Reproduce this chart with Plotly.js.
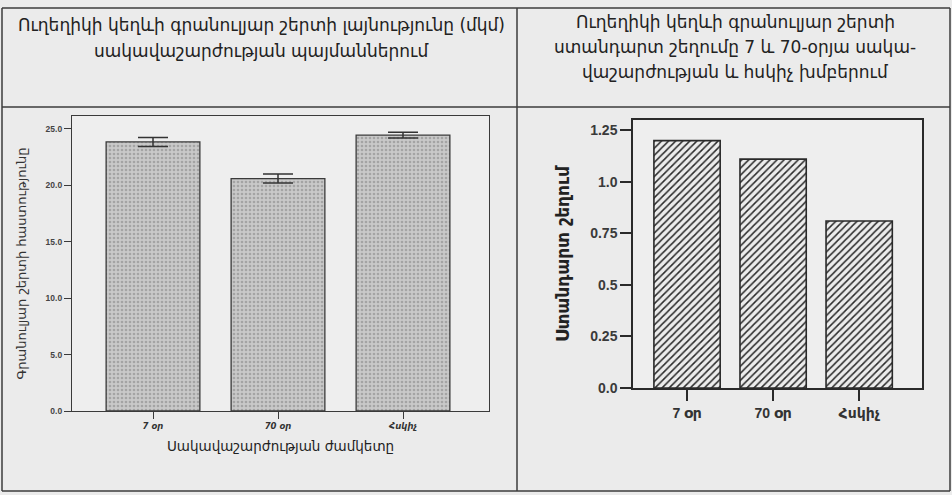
<!DOCTYPE html>
<html>
<head>
<meta charset="utf-8">
<script src="https://cdn.plot.ly/plotly-3.0.1.min.js"></script>
<style>
html,body{margin:0;padding:0;background:#ebebeb;}
#chart{width:952px;height:495px;}
</style>
</head>
<body>
<div id="chart"></div>
<script>
// ---- data ----
const categories = ['7 օր', '70 օր', 'Հսկիչ'];
const layerThickness = [23.85, 20.6, 24.45];
const layerThicknessErr = [0.4, 0.4, 0.25];
const stdDeviation = [1.20, 1.11, 0.81];
const leftTickVals = [0, 5, 10, 15, 20, 25];
const leftTickText = ['0.0', '5.0', '10.0', '15.0', '20.0', '25.0'];
const rightTickVals = [0, 0.25, 0.5, 0.75, 1.0, 1.25];
const rightTickText = ['0.0', '0.25', '0.5', '0.75', '1.0', '1.25'];
const leftHeader = ['Ուղեղիկի կեղևի գրանուլյար շերտի լայնությունը (մկմ)', 'սակավաշարժության պայմաններում'];
const rightHeader = ['Ուղեղիկի կեղևի գրանուլյար շերտի', 'ստանդարտ շեղումը 7 և 70-օրյա սակա-', 'վաշարժության և հսկիչ խմբերում'];
const leftYTitle = 'Գրանուլյար շերտի հաստությունը';
const leftXTitle = 'Սակավաշարժության ժամկետը';
const rightYTitle = 'Ստանդարտ շեղում';

const W = 952, H = 495;
const px = x => x / W;
const py = y => 1 - y / H;
const ARM = 'DejaVu Sans, Noto Sans, sans-serif';
const INK = '#222222';

const traces = [
  {
    type: 'bar', x: categories, y: layerThickness, xaxis: 'x', yaxis: 'y',
    width: 0.75,
    marker: {
      color: '#c4c4c4',
      line: {color: '#3a3a3a', width: 1.3},
      pattern: {shape: '.', bgcolor: '#c9c9c9', fgcolor: '#a4a4a4', size: 4, solidity: 0.35}
    },
    error_y: {type: 'data', array: layerThicknessErr, visible: true, color: '#333', thickness: 1.5, width: 15},
    hoverinfo: 'x+y', showlegend: false
  },
  {
    type: 'bar', x: categories, y: stdDeviation, xaxis: 'x2', yaxis: 'y2',
    width: 0.77,
    marker: {
      color: '#eeeeee',
      line: {color: '#2a2a2a', width: 1.6},
      pattern: {shape: '/', bgcolor: '#ececec', fgcolor: '#2a2a2a', size: 5, solidity: 0.3}
    },
    hoverinfo: 'x+y', showlegend: false
  }
];

const lineShape = (x0, y0, x1, y1) => ({
  type: 'line', xref: 'paper', yref: 'paper',
  x0: px(x0), y0: py(y0), x1: px(x1), y1: py(y1),
  line: {color: '#3c3c3c', width: 1.5}
});

const annotations = [];
leftHeader.forEach((t, i) => annotations.push({
  xref: 'paper', yref: 'paper', x: px(261), y: py(25 + i * 26), text: t,
  showarrow: false, xanchor: 'center', yanchor: 'middle',
  font: {family: ARM, size: 17, color: INK}
}));
rightHeader.forEach((t, i) => annotations.push({
  xref: 'paper', yref: 'paper', x: px(735), y: py(22 + i * 25), text: t,
  showarrow: false, xanchor: 'center', yanchor: 'middle',
  font: {family: ARM, size: 17, color: INK}
}));

const layout = {
  width: W, height: H,
  margin: {l: 0, r: 0, t: 0, b: 0},
  paper_bgcolor: '#ebebeb',
  plot_bgcolor: '#eeeeee',
  bargap: 0.25,
  xaxis: {
    domain: [px(72), px(489)], anchor: 'y',
    type: 'category', range: [-0.648, 2.688],
    showline: true, mirror: true, linecolor: '#3a3a3a', linewidth: 1.3,
    ticks: 'outside', ticklen: 7, tickcolor: '#3a3a3a', tickwidth: 1.3,
    tickfont: {family: ARM, size: 8.5, color: '#333', style: 'italic', weight: 'bold'},
    showgrid: false, zeroline: false, fixedrange: true,
    title: {text: leftXTitle, standoff: 11, font: {family: ARM, size: 13.5, color: INK}}
  },
  yaxis: {
    domain: [py(411), py(116)], anchor: 'x',
    range: [0, 26.15],
    tickvals: leftTickVals, ticktext: leftTickText,
    showline: true, mirror: true, linecolor: '#3a3a3a', linewidth: 1.3,
    ticks: 'outside', ticklen: 7, tickcolor: '#3a3a3a', tickwidth: 1.3,
    tickfont: {family: 'Liberation Sans, DejaVu Sans, sans-serif', size: 8.5, color: '#444', weight: 'bold'},
    showgrid: false, zeroline: false, fixedrange: true,
    title: {text: leftYTitle, standoff: 16, font: {family: ARM, size: 13, color: '#333'}}
  },
  xaxis2: {
    domain: [px(633), px(922)], anchor: 'y2',
    type: 'category', range: [-0.628, 2.73],
    showline: true, mirror: true, linecolor: '#2a2a2a', linewidth: 1.5,
    ticks: 'outside', ticklen: 11, tickcolor: '#2a2a2a', tickwidth: 1.5,
    tickfont: {family: 'Liberation Sans, DejaVu Sans, sans-serif', size: 14, color: '#333', weight: 'bold'},
    showgrid: false, zeroline: false, fixedrange: true
  },
  yaxis2: {
    domain: [py(388), py(120)], anchor: 'x2',
    range: [0, 1.30],
    tickvals: rightTickVals, ticktext: rightTickText,
    showline: true, mirror: true, linecolor: '#2a2a2a', linewidth: 1.5,
    ticks: 'outside', ticklen: 11, tickcolor: '#2a2a2a', tickwidth: 1.5,
    tickfont: {family: 'Liberation Sans, DejaVu Sans, sans-serif', size: 14, color: '#3a3a3a', weight: 'bold'},
    showgrid: false, zeroline: false, fixedrange: true,
    title: {text: rightYTitle, standoff: 16, font: {family: ARM, size: 17, color: INK, weight: 'bold'}}
  },
  shapes: [
    lineShape(2, 8, 950, 8),
    lineShape(2, 107, 950, 107),
    lineShape(2, 491, 950, 491),
    lineShape(2, 8, 2, 491),
    lineShape(950, 8, 950, 491),
    lineShape(517, 8, 517, 491)
  ],
  annotations: annotations
};

Plotly.newPlot('chart', traces, layout, {displayModeBar: false});
</script>
</body>
</html>
